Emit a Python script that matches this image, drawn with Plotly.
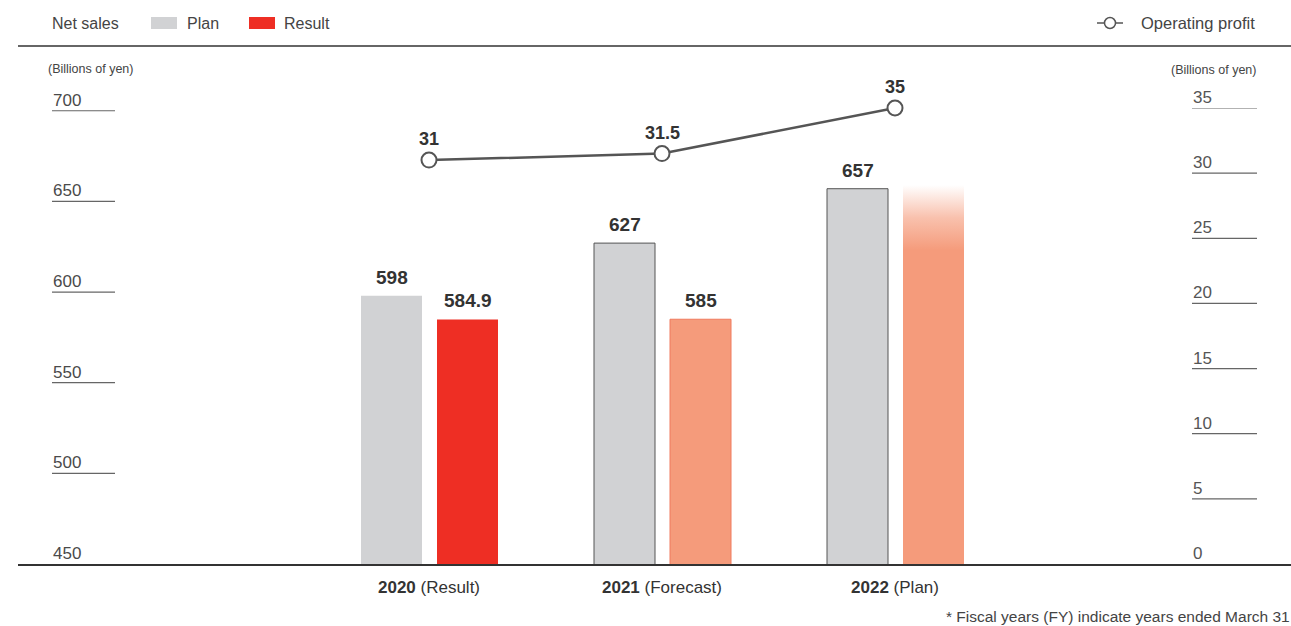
import plotly.graph_objects as go

# ---------------- data ----------------
categories = ["2020", "2021", "2022"]
category_notes = ["Result", "Forecast", "Plan"]
plan_sales = [598, 627, 657]
result_sales = [584.9, 585]
result_2022_solid = 623      # solid part of the 2022 plan bar (unlabelled)
result_2022_fade_top = 659   # top of the faded part
operating_profit = [31, 31.5, 35]
left_ticks = [450, 500, 550, 600, 650, 700]
right_ticks = [0, 5, 10, 15, 20, 25, 30, 35]

# ---------------- style ----------------
FONT = "Liberation Sans, Arial, Helvetica, sans-serif"
GRAY = "#d1d2d4"
RED = "#ee2e24"
SALMON = "#f59b7b"
SALMON_EDGE = "#f07a5e"
TXT = "#333333"
LINE = "#555555"

W, H = 1291, 626
ML, MR, MT, MB = 18, 0, 108, 62
PH = H - MT - MB          # plot height in px
PW = W - ML - MR          # plot width in px
PX_PER_CAT = 233.0
C0_PX = 429.0             # pixel x of first category centre
x_lo = -(C0_PX - ML) / PX_PER_CAT
x_hi = x_lo + PW / PX_PER_CAT

bar_w = 61 / PX_PER_CAT
plan_off = -68 / PX_PER_CAT
res_off = 8 / PX_PER_CAT

def py(pix):   # pixel y -> paper y
    return (H - MB - pix) / PH

def px(pix):   # pixel x -> paper x
    return (pix - ML) / PW

fig = go.Figure()

# Plan bars
fig.add_trace(go.Bar(
    x=categories, y=plan_sales, width=bar_w, offset=plan_off,
    marker=dict(color=GRAY, line=dict(color=["rgba(0,0,0,0)", "#555", "#555"],
                                      width=[0, 1, 1])),
    showlegend=False, hoverinfo="skip"))

# Result bars (2022 solid part)
res_vals = result_sales + [result_2022_solid]
fig.add_trace(go.Bar(
    x=categories, y=res_vals, width=bar_w, offset=res_off,
    marker=dict(color=[RED, SALMON, SALMON],
                line=dict(color=[RED, SALMON_EDGE, "rgba(0,0,0,0)"], width=[0, 1, 0])),
    showlegend=False, hoverinfo="skip"))

# faded top of the 2022 bar, drawn with a vertical gradient fill on a
# linear helper x-axis aligned with the category axis (index 2 = "2022")
i22 = categories.index("2022")
fx0, fx1 = i22 + res_off, i22 + res_off + bar_w
fy0, fy1 = result_2022_solid - 0.5, result_2022_fade_top
fig.add_trace(go.Scatter(
    x=[fx0, fx1, fx1, fx0, fx0], y=[fy0, fy0, fy1, fy1, fy0], xaxis="x2",
    mode="lines", fill="toself", line=dict(width=0, color="rgba(0,0,0,0)"),
    fillgradient=dict(type="vertical", start=result_2022_solid, stop=result_2022_fade_top,
                      colorscale=[[0, "rgba(245,155,123,1)"],
                                  [0.5, "rgba(245,155,123,0.62)"],
                                  [1, "rgba(245,155,123,0)"]]),
    showlegend=False, hoverinfo="skip"))

# Operating profit line
fig.add_trace(go.Scatter(
    x=categories, y=operating_profit, yaxis="y2", mode="lines+markers",
    line=dict(color=LINE, width=2.5),
    marker=dict(size=15, color="white", line=dict(color=LINE, width=2)),
    showlegend=False, hoverinfo="skip", cliponaxis=False))

annotations = []
# line value labels
for i, v in enumerate(operating_profit):
    annotations.append(dict(x=i, y=v, xref="x", yref="y2",
                            text=f"<b>{v:g}</b>", showarrow=False, yanchor="bottom",
                            yshift=9, font=dict(family=FONT, size=18, color=TXT)))
# bar value labels
for i, v in enumerate(plan_sales):
    annotations.append(dict(x=i + plan_off + bar_w / 2, y=v, xref="x", yref="y",
                            text=f"<b>{v:g}</b>", showarrow=False, yanchor="bottom",
                            yshift=6, font=dict(family=FONT, size=19, color=TXT)))
for i, v in enumerate(result_sales):
    annotations.append(dict(x=i + res_off + bar_w / 2, y=v, xref="x", yref="y",
                            text=f"<b>{v:g}</b>", showarrow=False, yanchor="bottom",
                            yshift=6, font=dict(family=FONT, size=19, color=TXT)))

# axis tick labels
for t in left_ticks:
    annotations.append(dict(x=px(51), y=t, xref="paper", yref="y", text=str(t),
                            showarrow=False, xanchor="left", yanchor="bottom", yshift=-1,
                            font=dict(family=FONT, size=17, color="#4a4a4a")))
for t in right_ticks:
    annotations.append(dict(x=px(1191), y=t, xref="paper", yref="y2", text=str(t),
                            showarrow=False, xanchor="left", yanchor="bottom", yshift=-1,
                            font=dict(family=FONT, size=17, color="#555")))

# unit labels
annotations.append(dict(x=px(46), y=py(69), xref="paper", yref="paper",
                        text="(Billions of yen)", showarrow=False, xanchor="left",
                        yanchor="middle", font=dict(family=FONT, size=12.5, color="#444")))
annotations.append(dict(x=px(1258), y=py(70), xref="paper", yref="paper",
                        text="(Billions of yen)", showarrow=False, xanchor="right",
                        yanchor="middle", font=dict(family=FONT, size=12.5, color="#444")))

# legend texts
leg_font = dict(family=FONT, size=16, color="#444")
annotations += [
    dict(x=px(50), y=py(23), xref="paper", yref="paper", text="Net sales",
         showarrow=False, xanchor="left", yanchor="middle", font=leg_font),
    dict(x=px(185), y=py(23), xref="paper", yref="paper", text="Plan",
         showarrow=False, xanchor="left", yanchor="middle", font=leg_font),
    dict(x=px(282), y=py(23), xref="paper", yref="paper", text="Result",
         showarrow=False, xanchor="left", yanchor="middle", font=leg_font),
    dict(x=px(1139), y=py(23), xref="paper", yref="paper", text="Operating profit",
         showarrow=False, xanchor="left", yanchor="middle",
         font=dict(family=FONT, size=16.5, color="#444")),
]

# footnote
annotations.append(dict(x=1, y=py(616), xref="paper", yref="paper",
                        text="* Fiscal years (FY) indicate years ended March 31",
                        showarrow=False, xanchor="right", yanchor="middle", xshift=1,
                        font=dict(family=FONT, size=15.5, color="#444")))

shapes = []
# top rule
shapes.append(dict(type="line", xref="paper", yref="paper", x0=0, x1=1,
                   y0=py(46), y1=py(46), line=dict(color="#333", width=1.5)))
# legend swatches
shapes.append(dict(type="rect", xref="paper", yref="paper", x0=px(151), x1=px(177),
                   y0=py(29), y1=py(17), fillcolor=GRAY, line=dict(width=0)))
shapes.append(dict(type="rect", xref="paper", yref="paper", x0=px(249), x1=px(275),
                   y0=py(29), y1=py(17), fillcolor=RED, line=dict(width=0)))
shapes.append(dict(type="line", xref="paper", yref="paper", x0=px(1097), x1=px(1123),
                   y0=py(23), y1=py(23), line=dict(color=LINE, width=1.5)))
shapes.append(dict(type="circle", xref="paper", yref="paper", x0=px(1104.5), x1=px(1115.5),
                   y0=py(28.5), y1=py(17.5), fillcolor="white", line=dict(color=LINE, width=1.5)))
# short tick rules
for t in left_ticks[1:]:
    shapes.append(dict(type="line", xref="paper", yref="y", x0=px(52), x1=px(115),
                       y0=t, y1=t, line=dict(color="#666", width=1.2)))
for t in right_ticks[1:]:
    shapes.append(dict(type="line", xref="paper", yref="y2", x0=px(1192), x1=px(1257),
                       y0=t, y1=t, line=dict(color="#666", width=1.2)))

fig.update_layout(
    width=W, height=H, margin=dict(l=ML, r=MR, t=MT, b=MB),
    paper_bgcolor="white", plot_bgcolor="white", barmode="overlay",
    font=dict(family=FONT, color=TXT),
    xaxis=dict(type="category", range=[x_lo, x_hi], showgrid=False, zeroline=False,
               showline=True, linecolor="#333", linewidth=1.5, ticks="",
               tickvals=categories,
               ticktext=[f"<b>{c}</b> ({n})" for c, n in zip(categories, category_notes)],
               tickfont=dict(family=FONT, size=17, color=TXT), ticklabelstandoff=7),
    xaxis2=dict(type="linear", range=[x_lo, x_hi], overlaying="x", visible=False),
    yaxis=dict(range=[450, 450 + PH / 1.813], showgrid=False, zeroline=False,
               showticklabels=False, showline=False),
    yaxis2=dict(range=[0, 35], overlaying="y", side="right", showgrid=False,
                zeroline=False, showticklabels=False, showline=False),
    annotations=annotations, shapes=shapes,
)

fig.write_html("out.html")
